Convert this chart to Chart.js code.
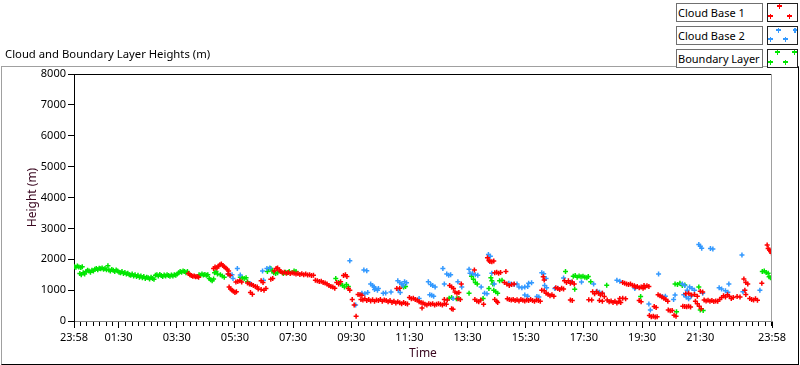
<!DOCTYPE html>
<html>
<head>
<meta charset="utf-8">
<script src="https://cdn.jsdelivr.net/npm/chart.js@4.4.1/dist/chart.umd.min.js"></script>
<style>
  html, body { margin: 0; padding: 0; background: #fff; }
  body { width: 800px; height: 365px; position: relative; overflow: hidden; font-family: 'Noto Sans', sans-serif; }
  #frame { position: absolute; left: 1px; top: 66px; width: 798px; height: 299px; box-sizing: border-box;
           border-left: 1px solid #a0a0a0; border-top: 1px solid #a0a0a0; border-right: 1px solid #000; border-bottom: 1px solid #000; }
  #chart { position: absolute; left: 0; top: 0; }
  #title { position: absolute; left: 5px; top: 46px; font-size: 11.3px; line-height: 16px; color: #000; white-space: nowrap; }
  .lbl { position: absolute; left: 676px; width: 87px; height: 19px; box-sizing: border-box; background: #fff;
         border: 1px solid #707070; font-size: 11px; line-height: 17px; padding-left: 1px; color: #000; white-space: nowrap; z-index: 3; }
  .sym { position: absolute; left: 767px; width: 31px; height: 19px; box-sizing: border-box; background: #fff;
         border: 1px solid #222; z-index: 3; }
  .sym svg { position: absolute; left: 0; top: 0; }
</style>
</head>
<body>
<div id="frame"></div>
<canvas id="chart" width="800" height="365"></canvas>
<div id="title">Cloud and Boundary Layer Heights (m)</div>

<div class="lbl" style="top:3px">Cloud Base 1</div>
<div class="sym" style="top:3px"><svg width="29" height="17" shape-rendering="crispEdges">
  <path d="M9 2h5M11.5 0v5M0 12h5M2.5 10v5M19 12h5M21.5 10v5" stroke="#ff0000" stroke-width="1.3"/></svg></div>
<div class="lbl" style="top:26px">Cloud Base 2</div>
<div class="sym" style="top:26px"><svg width="29" height="17" shape-rendering="crispEdges">
  <path d="M8 3h5M10.5 1v5M0 12h5M2.5 10v5M15 12h5M17.5 10v5M25 3h4M27 1v5" stroke="#3399ff" stroke-width="1.3"/></svg></div>
<div class="lbl" style="top:49px">Boundary Layer</div>
<div class="sym" style="top:49px"><svg width="29" height="17" shape-rendering="crispEdges">
  <path d="M7 2h5M9.5 0v5M0 12h5M2.5 10v5M15 12h5M17.5 10v5M24 2h5M26.5 0v5" stroke="#00e600" stroke-width="1.3"/></svg></div>

<script>
// time axis: minutes since 23:58
const majorTimes  = [0, 92, 212, 332, 452, 572, 692, 812, 932, 1052, 1172, 1292, 1440];
const majorLabels = ['23:58','01:30','03:30','05:30','07:30','09:30','11:30','13:30','15:30','17:30','19:30','21:30','23:58'];
const heightTicks = [0, 1000, 2000, 3000, 4000, 5000, 6000, 7000, 8000];

// [minutes, height m]
const cloudBase1 = [
  [236,1540],[239,1500],[242,1470],[245,1450],[248,1460],[251,1430],[254,1440],[257,1420],
  [288,1700],[291,1750],[295,1720],[298,1780],[301,1820],[304,1850],[307,1800],[310,1760],[313,1720],[316,1680],[319,1620],
  [318,1520],[322,1480],
  [320,1100],[323,1040],[326,1000],[329,960],[332,920],[335,950],
  [334,1260],[338,1280],[342,1300],[346,1260],
  [358,1230],[362,1200],[366,1180],[370,1150],[374,1120],[378,1100],
  [364,920],[368,870],
  [380,1040],[386,1020],[392,1000],
  [386,1300],[390,1250],[396,1050],
  [406,1350],[410,1380],
  [413,1620],[417,1700],[420,1720],[424,1650],
  [426,1600],[430,1560],[434,1580],[438,1550],[442,1570],[446,1540],[450,1560],
  [454,1550],[458,1520],[462,1540],[466,1510],[470,1530],[474,1500],[478,1520],[482,1490],[486,1500],[490,1470],[494,1480],
  [498,1320],[502,1300],[506,1280],[510,1290],[514,1250],[518,1230],[522,1200],
  [526,1150],[530,1120],[534,1100],[538,1060],
  [542,1250],[546,1200],[550,1270],
  [556,1470],[560,1500],[563,1440],
  [566,1050],[569,1000],
  [574,700],[578,520],[582,150],
  [586,860],[590,850],[594,830],
  [592,700],[596,680],[600,720],[604,660],[608,700],[612,650],[616,690],[620,640],[624,680],[628,660],[632,700],[636,640],
  [640,680],[644,660],[648,620],[652,660],[656,600],[660,640],[664,580],[668,620],[672,590],[676,560],[680,600],[684,570],[688,550],
  [666,1050],[672,1060],
  [692,760],[696,720],[700,740],[704,700],[708,680],
  [712,620],[716,600],[720,580],[724,540],[728,520],[718,420],
  [732,560],[736,540],[740,560],[744,520],[748,540],[752,560],[756,540],[760,520],[764,560],[768,540],
  [764,700],[770,680],
  [775,1150],[779,1100],[783,1050],
  [779,400],[782,380],
  [786,940],[790,900],[794,920],
  [792,720],[797,700],[799,1200],
  [826,1650],
  [827,700],[831,650],[835,620],[839,680],[845,540],
  [853,2050],[856,1960],[858,1930],[862,1920],[866,1940],
  [868,1560],[872,1580],[876,1550],[880,1570],
  [868,700],[872,640],[874,600],
  [891,1600],
  [888,1250],[893,1200],[898,1150],[903,1180],[908,1200],
  [894,720],[898,700],[902,680],[906,700],[910,660],[914,690],[918,650],[922,700],[926,670],[930,650],[934,680],[938,660],
  [942,700],[946,660],[950,640],[954,680],[958,660],[962,640],
  [965,1000],[970,980],[968,1430],[970,1330],
  [974,900],[978,870],[982,820],[986,850],[990,800],
  [994,1080],[998,1050],[1002,1020],[1006,1060],[1010,1040],
  [1012,1300],[1016,1250],[1020,1300],[1024,1220],[1028,1260],[1032,1200],
  [1024,680],[1028,660],
  [1062,690],[1068,680],
  [1070,950],[1074,880],[1078,950],[1082,900],[1086,840],[1090,900],[1094,790],
  [1084,660],[1090,640],
  [1100,680],[1104,620],[1108,650],[1112,600],[1116,640],[1120,580],[1124,620],[1128,600],
  [1126,730],[1132,740],[1138,720],
  [1132,1250],[1136,1220],[1140,1200],[1144,1180],[1148,1200],[1152,1160],[1156,1140],
  [1158,1100],[1162,1120],[1166,1080],[1170,1100],[1174,1060],[1178,1090],
  [1166,660],[1170,620],
  [1176,1150],[1182,1140],[1186,1120],
  [1187,180],[1191,140],[1195,150],[1199,130],[1203,140],
  [1197,470],[1201,440],
  [1205,850],[1209,820],[1213,780],[1217,740],[1221,700],[1225,640],
  [1226,360],[1230,330],[1234,340],
  [1238,190],[1242,150],
  [1256,480],[1260,470],[1264,460],[1268,480],[1272,450],
  [1262,880],[1268,900],[1274,840],[1280,860],[1286,800],
  [1282,640],[1286,560],[1290,480],[1294,400],
  [1292,960],[1297,940],
  [1300,680],[1304,650],[1308,670],[1312,640],[1316,660],[1320,630],[1324,650],[1328,640],
  [1332,700],[1336,760],[1340,820],[1344,780],[1348,850],[1352,800],[1356,730],[1360,760],
  [1368,790],[1374,780],
  [1382,1360],[1386,1250],[1390,1200],
  [1384,1000],[1386,860],
  [1394,730],[1398,700],[1402,680],[1406,720],[1410,670],
  [1419,1220],
  [1430,2460],[1432,2350],[1435,2300],[1437,2250],[1439,2200]
];

const cloudBase2 = [
  [318,1520],[322,1480],[326,1500],[328,1380],[337,1700],[343,1490],[364,1210],
  [389,1620],[391,1320],[398,1700],[404,1720],
  [569,1950],[581,520],
  [594,900],[600,880],[606,920],[598,1650],[604,1630],
  [612,1200],[616,1150],[619,1100],[622,1050],[626,1000],[620,1020],[628,1050],
  [638,900],[643,910],[654,940],
  [668,1300],[672,1250],[676,1200],[679,1150],[669,1000],[673,920],
  [682,1270],[686,1240],
  [712,730],[731,1270],
  [734,850],[738,830],[742,800],
  [736,1180],[740,1150],[745,1100],
  [761,1700],[764,1200],
  [769,1520],[773,1480],[777,1500],
  [782,730],[792,1270],[800,1100],
  [815,1680],[817,1550],[822,1540],[828,1500],[833,1480],
  [840,1100],[847,900],[852,880],
  [855,2150],[859,2100],[862,1550],[867,1200],
  [897,1220],[902,1200],[908,1180],[914,1200],
  [918,1100],[924,1080],[930,1100],[936,1120],
  [938,1220],[944,1240],
  [930,840],[936,800],
  [955,790],[959,780],
  [965,1560],[969,1530],
  [971,1150],[975,1080],[974,1380],
  [992,1050],[998,1060],
  [1010,1390],[1026,1260],[1047,1260],[1072,1200],
  [1079,960],[1084,930],[1090,900],
  [1120,1320],[1126,1290],
  [1157,1050],[1186,550],[1189,360],[1206,1520],
  [1214,790],[1220,800],
  [1237,700],[1240,840],
  [1255,1200],[1260,1150],[1265,1000],[1270,1100],[1275,1050],[1280,1000],
  [1258,850],[1263,780],[1268,720],[1273,800],
  [1289,2480],[1292,2420],[1295,2360],
  [1313,2350],[1318,2330],
  [1297,900],
  [1331,1080],[1336,1040],
  [1351,1200],[1344,980],[1349,930],
  [1378,2140],[1380,950],
  [1415,1000]
];

const boundaryLayer = [
  [1,1760],[4,1740],[7,1780],[10,1750],[14,1730],[17,1760],
  [12,1540],[15,1500],[19,1560],[22,1520],
  [25,1600],[28,1640],[31,1620],[34,1580],[37,1640],[40,1620],
  [43,1680],[46,1700],[49,1660],[52,1710],[55,1690],[58,1720],[61,1680],[64,1700],[67,1660],[70,1790],
  [72,1650],[75,1620],[78,1670],[81,1640],[84,1600],[87,1650],[90,1620],[93,1580],
  [96,1560],[99,1600],[102,1540],[105,1570],[108,1520],[111,1550],[114,1500],
  [117,1480],[120,1520],[123,1460],[126,1500],[129,1440],[132,1480],[135,1420],[138,1460],[141,1400],[144,1440],
  [147,1380],[150,1420],[153,1400],[156,1360],[159,1420],[162,1380],[165,1350],
  [168,1480],[171,1500],[174,1460],[177,1510],[180,1470],[183,1440],[186,1490],[189,1460],[192,1500],[195,1470],
  [198,1450],[201,1490],[204,1460],[207,1500],[210,1480],[213,1520],
  [216,1560],[219,1600],[222,1580],[225,1620],[228,1600],[231,1560],[234,1600],
  [258,1500],[261,1480],[264,1520],[267,1490],[270,1510],[273,1480],[276,1500],
  [279,1380],[282,1340],[285,1300],[288,1360],
  [290,1560],[293,1600],[296,1520],
  [302,1500],[306,1460],[310,1420],
  [343,1420],[347,1400],[351,1380],[355,1400],[358,1270],
  [399,1600],[402,1680],[406,1700],[409,1620],[412,1560],[416,1540],[420,1560],
  [432,1540],[436,1580],[440,1560],[444,1600],
  [454,1620],[458,1600],
  [540,1380],[546,1250],[550,1200],[554,1150],[558,1100],[562,1180],[566,1120],
  [680,1100],[684,1120],
  [774,740],[779,760],[789,720],[794,730],
  [815,900],[820,1450],[824,1350],[828,1250],[832,1200],[844,730],
  [856,1050],[860,1400],[862,1300],[864,1200],[866,1000],[870,950],[874,900],[878,1300],[883,1320],
  [1014,1600],[1033,1025],
  [1030,1450],[1034,1470],[1038,1420],[1042,1460],[1046,1430],[1050,1450],[1054,1420],[1058,1400],[1061,1440],
  [1066,1270],[1099,1160],[1169,790],[1243,300],
  [1240,1200],[1245,1180],[1250,1220],[1255,1150],[1260,1170],
  [1289,1100],[1292,360],[1298,340],
  [1420,1600],[1424,1620],[1428,1570],[1432,1550],
  [1434,1430],[1437,1400],[1440,1410]
];

// minor ticks every 2h/9, anchored on 01:30
const minorStep = 120 / 9;
const minorTimes = [];
for (let t = 92 - minorStep; t > 1; t -= minorStep) minorTimes.push(t);
for (let t = 92 + minorStep; t < 1439; t += minorStep) {
  if (!majorTimes.some(m => Math.abs(m - t) < 1)) minorTimes.push(t);
}

const toPts = arr => arr.map(p => ({x: p[0], y: p[1]}));

const framePlugin = {
  id: 'frame',
  afterDraw(chart) {
    const {ctx, chartArea: a, scales: {x}} = chart;
    ctx.save();
    ctx.lineWidth = 1;
    ctx.strokeStyle = '#000';
    ctx.beginPath(); ctx.moveTo(a.left, a.top + 0.5); ctx.lineTo(a.right, a.top + 0.5); ctx.stroke();
    ctx.strokeStyle = '#a0a0a0';
    ctx.beginPath(); ctx.moveTo(a.right - 0.5, a.top); ctx.lineTo(a.right - 0.5, a.bottom); ctx.stroke();
    ctx.strokeStyle = '#000';
    minorTimes.forEach(t => {
      const px = Math.round(x.getPixelForValue(t)) + 0.5;
      ctx.beginPath(); ctx.moveTo(px, a.bottom + 1); ctx.lineTo(px, a.bottom + 5); ctx.stroke();
    });
    ctx.restore();
  }
};

Chart.defaults.font.family = "'Noto Sans', sans-serif";
Chart.defaults.font.size = 11;
Chart.defaults.color = '#000';

const pointStyle = color => ({
  pointStyle: 'cross', pointRadius: 2.5, pointHoverRadius: 2.5,
  pointBorderWidth: 1.5, pointBorderColor: color, pointBackgroundColor: color,
  borderColor: color, backgroundColor: color, showLine: false
});

new Chart(document.getElementById('chart'), {
  type: 'scatter',
  data: {
    datasets: [
      Object.assign({label: 'Cloud Base 1', data: toPts(cloudBase1)}, pointStyle('#ff0000')),
      Object.assign({label: 'Cloud Base 2', data: toPts(cloudBase2)}, pointStyle('#3399ff')),
      Object.assign({label: 'Boundary Layer', data: toPts(boundaryLayer)}, pointStyle('#00e600'))
    ]
  },
  options: {
    responsive: false,
    animation: false,
    layout: {padding: {top: 74, right: 28, left: 0, bottom: 0}},
    plugins: {legend: {display: false}, tooltip: {enabled: false}},
    scales: {
      x: {
        type: 'linear', min: 0, max: 1440,
        afterBuildTicks: s => { s.ticks = majorTimes.map(v => ({value: v})); },
        afterFit: s => { s.height = 44; },
        ticks: {autoSkip: false, maxRotation: 0, padding: 3, callback: (v, i) => majorLabels[i]},
        grid: {drawOnChartArea: false, tickLength: 7, tickColor: '#000'},
        border: {color: '#808080'},
        title: {display: true, text: 'Time', color: '#3a0820', font: {size: 12}, padding: {top: 0, bottom: 4}}
      },
      y: {
        min: 0, max: 8000,
        afterBuildTicks: s => { s.ticks = heightTicks.map(v => ({value: v})); },
        afterFit: s => { s.width = 74; },
        ticks: {padding: 2, callback: v => String(v)},
        grid: {drawOnChartArea: false, tickLength: 6, tickColor: '#000'},
        border: {color: '#000'},
        title: {display: true, text: 'Height (m)', color: '#3a0820', font: {size: 12}, padding: {top: 25, bottom: 0}}
      }
    }
  },
  plugins: [framePlugin]
});
</script>
</body>
</html>
